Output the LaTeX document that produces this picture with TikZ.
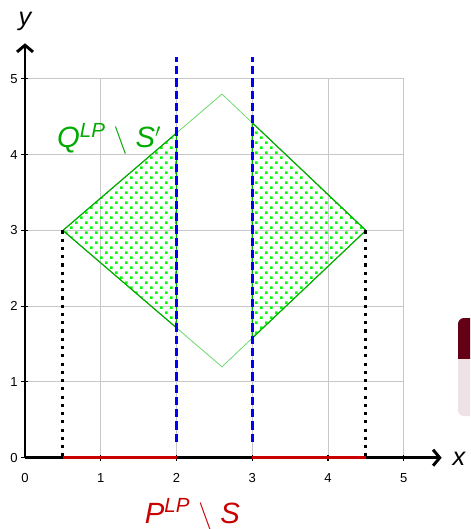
\documentclass[tikz,border=0pt]{standalone}
\usepackage{fontspec}
\setmainfont{Liberation Sans}
\usepackage{xcolor}
\usetikzlibrary{arrows.meta,patterns.meta}
\definecolor{qgreen}{RGB}{0,170,0}
\definecolor{qline}{RGB}{110,215,110}
\definecolor{qdot}{RGB}{0,255,0}
\definecolor{pred}{RGB}{200,0,0}
\definecolor{sblue}{RGB}{0,0,255}
\definecolor{tgrid}{RGB}{200,200,200}
\definecolor{blocktop}{RGB}{100,0,22}
\definecolor{blockbody}{RGB}{237,227,229}
\tikzdeclarepattern{name=qdots, type=uncolored,
  bounding box={(0pt,0pt) and (7.5pt,7.5pt)}, tile size={(7.5pt,7.5pt)},
  code={\fill (0.9pt,0.9pt) rectangle (2.8pt,2.8pt); \fill (4.65pt,4.65pt) rectangle (6.55pt,6.55pt);}}

\begin{document}
\begin{tikzpicture}[x=2cm, y=2cm, font=\fontsize{9.8}{11}\selectfont,
  axis/.style={line width=2.2pt},
  gridline/.style={tgrid, line width=0.75pt},
  cut/.style={sblue, line width=2.2pt, dash pattern=on 6.2pt off 3pt},
  drop/.style={line width=2.4pt, dash pattern=on 2.4pt off 3.8pt},
  proj/.style={pred, line width=2.4pt},
  hull/.style={qline, line width=0.6pt},
  part/.style={qgreen, line width=0.9pt, pattern={qdots}, pattern color=qdot},
  lbl/.style={inner sep=0pt, anchor=base west}]
\useasboundingbox (-0.33,-0.941) rectangle (5.875,6.042);
% grid and ticks
\draw[gridline, step=1] (0,0) grid (5,5);
\foreach \i in {0,...,5} {\node (xt\i) at (\i,-0.27) {\i}; \node (yt\i) at (-0.145,\i) {\i};}
% diamond and the two kept parts
\coordinate (l) at (0.5,3); \coordinate (t) at (2.6,4.8); \coordinate (r) at (4.5,3); \coordinate (b) at (2.6,1.2);
\coordinate (la) at (2,4.2857); \coordinate (lb) at (2,1.7143); \coordinate (ra) at (3,4.4211); \coordinate (rb) at (3,1.5789);
\draw[hull] (l) -- (t) -- (r) -- (b) -- cycle;
\draw[part] (l) -- (la) -- (lb) -- cycle;
\draw[part] (r) -- (ra) -- (rb) -- cycle;
% axes
\coordinate (o) at (0,0); \coordinate (xe) at (5.5,0); \coordinate (ye) at (0,5.47);
\draw[axis, -{Straight Barb[length=5pt,width=12pt]}] (o) -- (xe);
\draw[axis, -{Straight Barb[length=5pt,width=12pt]}] (o) -- (ye);
\foreach \i in {1,...,5} {\draw[line width=0.8pt] (\i,-0.04) -- (\i,0.04); \draw[line width=0.8pt] (-0.05,\i) -- (0.04,\i);}
\draw[line width=0.8pt] (-0.05,0) -- (0,0);
% projection onto x
\coordinate (l0) at (0.5,0); \coordinate (r0) at (4.5,0); \coordinate (s2) at (2,0); \coordinate (s3) at (3,0);
\draw[drop] (l) -- (l0); \draw[drop] (r) -- (r0);
\draw[proj] (l0) -- (s2); \draw[proj] (s3) -- (r0);
% cuts
\coordinate (c2b) at (2,0.21); \coordinate (c2t) at (2,5.29); \coordinate (c3b) at (3,0.21); \coordinate (c3t) at (3,5.29);
\draw[cut] (c2b) -- (c2t); \draw[cut] (c3b) -- (c3t);
% labels
\node[inner sep=0pt, anchor=base, font=\fontsize{19}{22}\selectfont\itshape] (ylab) at (0,5.71) {y};
\node[lbl, font=\fontsize{19}{22}\selectfont\itshape] (xlab) at (5.64,-0.097) {x};
\node[lbl, qgreen, font=\fontsize{22}{26}\selectfont] (qlab) at (0.42,4.09) {\textit{Q}\textsuperscript{\textit{LP}} $\setminus$ \textit{S}$'$};
\node[lbl, pred, font=\fontsize{22}{26}\selectfont] (plab) at (1.58,-0.862) {\textit{P}\textsuperscript{\textit{LP}} $\setminus$ \textit{S}};
% block at the right edge
\begin{scope}
\clip (-0.33,-0.941) rectangle (5.875,6.042);
\fill[blockbody, rounded corners=4.5pt] (5.716,0.55) rectangle (6.3,1.844);
\clip (5.6,1.315) rectangle (6.3,1.9);
\fill[blocktop, rounded corners=4.5pt] (5.716,0.55) rectangle (6.3,1.844);
\end{scope}
\end{tikzpicture}
\end{document}
